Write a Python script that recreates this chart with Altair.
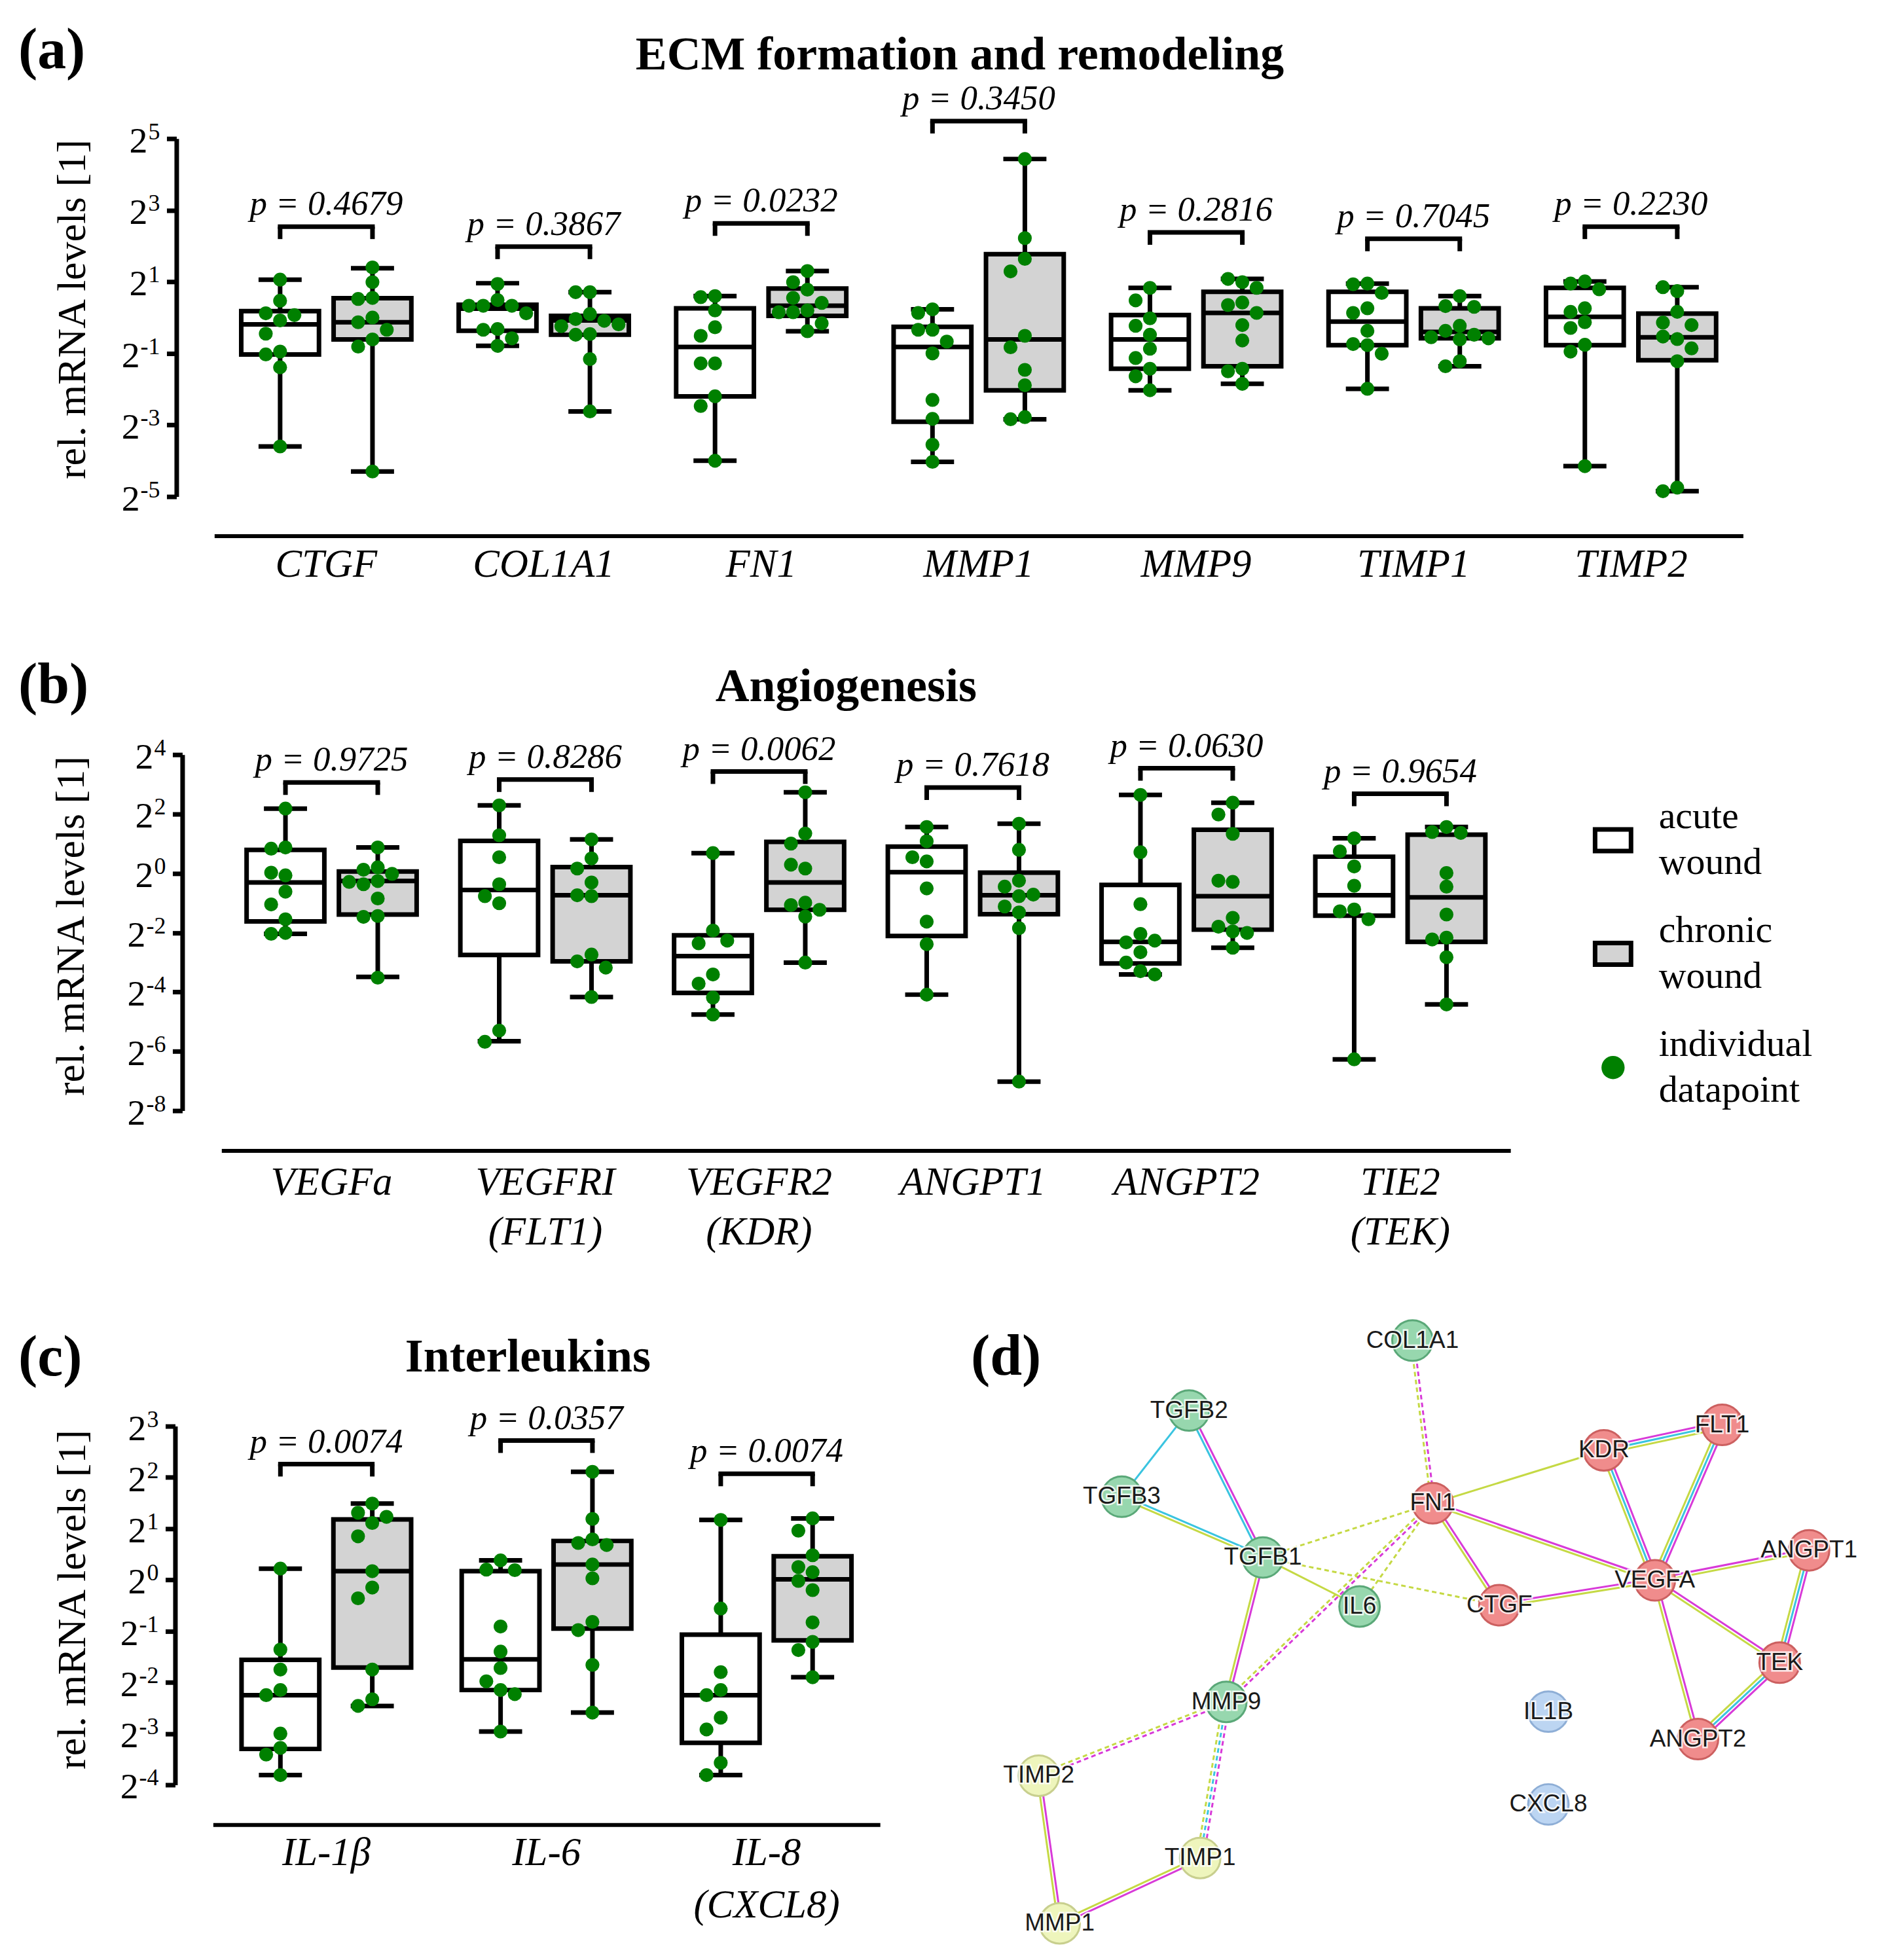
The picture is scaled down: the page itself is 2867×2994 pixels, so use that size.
import altair as alt
import pandas as pd
import numpy as np

SERIF = "Liberation Serif"
SANS = "Liberation Sans"
GREEN = "#008000"
GRAY = "#d3d3d3"

# ---------------- (a) ECM formation and remodeling ----------------
a_genes = ["CTGF", "COL1A1", "FN1", "MMP1", "MMP9", "TIMP1", "TIMP2"]
a_labels = ["CTGF", "COL1A1", "FN1", "MMP1", "MMP9", "TIMP1", "TIMP2"]
a_pvals = ["0.4679", "0.3867", "0.0232", "0.3450", "0.2816", "0.7045", "0.2230"]
a_bracket = [2.54, 1.98, 2.63, 5.49, 2.38, 2.20, 2.54]
# box statistics in log2 units: [min, q1, median, q3, max]
a_acute_box = [[-3.6, -1.03, -0.19, 0.18, 1.06], [-0.79, -0.37, 0.25, 0.36, 0.96],
               [-4.0, -2.2, -0.82, 0.26, 0.60], [-4.03, -2.91, -0.82, -0.26, 0.23],
               [-2.03, -1.43, -0.61, 0.07, 0.83], [-1.99, -0.77, -0.11, 0.72, 0.95],
               [-4.15, -0.77, 0.02, 0.83, 1.01]]
a_chronic_box = [[-4.3, -0.61, -0.13, 0.54, 1.38], [-2.62, -0.48, -0.08, 0.05, 0.71],
                 [-0.38, 0.05, 0.33, 0.81, 1.30], [-2.84, -2.03, -0.61, 1.77, 4.43],
                 [-1.85, -1.36, 0.13, 0.72, 1.08], [-1.36, -0.58, -0.40, 0.26, 0.60],
                 [-4.85, -1.19, -0.55, 0.11, 0.85]]
a_acute_pts = [[0.47, 1.06, 0.12, -0.08, 0.07, -0.45, -0.95, -1.03, -1.39, -3.6],
               [0.94, 0.49, 0.33, 0.33, 0.33, 0.12, -0.32, -0.34, -0.58, -0.79],
               [0.60, 0.57, 0.20, -0.27, -0.51, -1.28, -1.28, -2.2, -2.47, -4.0],
               [0.23, 0.13, -0.34, -0.34, -0.67, -1.0, -2.3, -2.83, -3.55, -4.03],
               [0.83, 0.48, -0.02, -0.23, -0.48, -0.87, -1.13, -1.43, -1.64, -2.03],
               [0.95, 0.93, 0.69, 0.26, 0.13, -0.37, -0.74, -0.77, -1.01, -1.99],
               [1.01, 0.95, 0.79, 0.26, 0.16, -0.13, -0.29, -0.76, -0.95, -4.15]]
a_chronic_pts = [[1.40, 0.99, 0.55, 0.52, 0.0, -0.13, -0.34, -0.61, -0.81, -4.3],
                 [0.71, 0.71, 0.10, -0.04, -0.09, -0.24, -0.19, -0.46, -0.48, -1.16, -2.62],
                 [1.30, 0.99, 0.78, 0.55, 0.41, 0.20, 0.15, 0.15, -0.16, -0.38],
                 [4.43, 2.22, 1.64, 1.29, -0.51, -0.83, -1.46, -1.89, -2.78, -2.84],
                 [0.99, 1.08, 0.83, 0.42, 0.35, 0.13, -0.21, -0.64, -1.43, -1.5, -1.85],
                 [0.60, 0.32, 0.30, -0.23, -0.37, -0.48, -0.55, -0.58, -0.61, -1.22, -1.36],
                 [0.74, 0.85, 0.16, -0.14, -0.21, -0.60, -0.53, -0.86, -1.22, -4.75, -4.85]]
a_ticks = [-5, -3, -1, 1, 3, 5]

# ---------------- (b) Angiogenesis ----------------
b_genes = ["VEGFa", "VEGFRI", "VEGFR2", "ANGPT1", "ANGPT2", "TIE2"]
b_labels = ["VEGFa", "VEGFRI|(FLT1)", "VEGFR2|(KDR)", "ANGPT1", "ANGPT2", "TIE2|(TEK)"]
b_pvals = ["0.9725", "0.8286", "0.0062", "0.7618", "0.0630", "0.9654"]
b_bracket = [3.06, 3.16, 3.43, 2.89, 3.54, 2.68]
b_acute_box = [[-2.04, -1.62, -0.31, 0.79, 2.18], [-5.66, -2.75, -0.56, 1.09, 2.29],
               [-4.76, -4.03, -2.79, -2.09, 0.68], [-4.09, -2.11, 0.04, 0.90, 1.56],
               [-3.41, -3.04, -2.31, -0.39, 2.64], [-6.27, -1.43, -0.74, 0.56, 1.18]]
b_chronic_box = [[-3.49, -1.39, -0.26, 0.06, 0.87], [-4.17, -2.97, -0.74, 0.21, 1.14],
                 [-3.01, -1.23, -0.31, 1.06, 2.73], [-7.02, -1.38, -0.74, 0.02, 1.67],
                 [-2.51, -1.90, -0.77, 1.47, 2.38], [-4.42, -2.31, -0.81, 1.30, 1.56]]
b_acute_pts = [[2.18, 0.87, 0.83, -0.07, 0.02, -0.62, -1.05, -1.55, -2.01, -2.04],
               [2.29, 1.28, 0.54, -0.37, -0.77, -1.01, -5.3, -5.68],
               [0.68, -1.93, -2.36, -2.27, -3.41, -3.72, -4.19, -4.76],
               [1.56, 1.08, 0.40, 0.54, -0.51, -1.63, -2.39, -4.09],
               [2.64, 0.71, -1.04, -2.04, -2.33, -2.27, -2.66, -3.01, -3.30, -3.41],
               [1.18, 0.74, 0.23, -0.42, -1.22, -1.28, -1.55, -6.27]]
b_chronic_pts = [[0.87, 0.20, 0.12, -0.02, -0.26, -0.29, -0.37, -0.85, -1.44, -1.47, -3.52],
                 [1.14, 0.50, 0.16, -0.31, -0.77, -0.74, -2.74, -2.97, -3.18, -4.17],
                 [2.73, 1.34, 1.0, 0.16, 0.29, -0.99, -1.07, -1.23, -1.46, -3.01],
                 [1.67, 0.79, -0.25, -0.45, -0.77, -0.72, -1.12, -1.32, -1.85, -7.02],
                 [2.38, 1.98, 1.33, -0.29, -0.25, -1.50, -1.96, -1.80, -2.01, -2.51],
                 [1.56, 1.39, 1.36, 0.01, -0.45, -1.39, -2.17, -2.23, -2.83, -4.42]]
b_ticks = [-8, -6, -4, -2, 0, 2, 4]

# ---------------- (c) Interleukins ----------------
c_genes = ["IL-1b", "IL-6", "IL-8"]
c_labels = ["IL-1β", "IL-6", "IL-8|(CXCL8)"]
c_pvals = ["0.0074", "0.0357", "0.0074"]
c_bracket = [2.26, 2.72, 2.07]
c_acute_box = [[-3.81, -3.30, -2.25, -1.56, 0.22], [-2.96, -2.15, -1.55, 0.17, 0.38],
               [-3.81, -3.18, -2.25, -1.07, 1.17]]
c_chronic_box = [[-2.46, -1.71, 0.17, 1.18, 1.49], [-2.59, -0.95, 0.30, 0.76, 2.11],
                 [-1.90, -1.18, 0.01, 0.46, 1.20]]
c_acute_pts = [[0.22, -1.36, -1.75, -2.15, -2.25, -3.0, -3.28, -3.41, -3.81],
               [0.38, 0.20, 0.19, -0.91, -1.40, -1.72, -1.98, -2.15, -2.23, -2.96],
               [1.17, -0.56, -1.80, -2.15, -2.25, -2.69, -2.92, -3.57, -3.81]]
c_chronic_pts = [[1.49, 1.31, 1.11, 1.23, 0.85, 0.17, -0.15, -0.36, -1.75, -2.33, -2.46],
                 [2.11, 1.19, 0.79, 0.72, 0.68, 0.30, 0.03, -0.82, -0.98, -1.66, -2.59],
                 [1.20, 0.96, 0.48, 0.25, 0.15, -0.02, -0.20, -0.83, -1.21, -1.37, -1.90]]
c_ticks = [-4, -3, -2, -1, 0, 1, 2, 3]

# ---------------- (d) interaction network ----------------
node_names = ["COL1A1", "TGFB2", "TGFB3", "TGFB1", "IL6", "MMP9", "TIMP2", "TIMP1", "MMP1",
              "FN1", "KDR", "FLT1", "VEGFA", "CTGF", "ANGPT1", "TEK", "ANGPT2", "IL1B", "CXCL8"]
node_x = [682, 340, 237, 453, 601, 397, 110, 357, 142,
          713, 975, 1156, 1053, 815, 1289, 1244, 1119, 890, 890]
node_y = [48, 155, 287, 380, 455, 601, 714, 840, 940,
          297, 216, 177, 415, 453, 369, 541, 658, 616, 758]
node_cluster = ["green", "green", "green", "green", "green", "green", "yellow", "yellow", "yellow",
                "red", "red", "red", "red", "red", "red", "red", "red", "blue", "blue"]
# evidence: m = experiments, c = databases, y = text mining
edge_a = ["TGFB2", "TGFB2", "TGFB3", "TGFB1", "TGFB1", "TGFB1", "TGFB1", "COL1A1", "FN1", "FN1",
          "FN1", "FN1", "FN1", "CTGF", "KDR", "KDR", "FLT1", "VEGFA", "VEGFA", "VEGFA",
          "ANGPT1", "TEK", "MMP9", "MMP9", "TIMP2", "TIMP1"]
edge_b = ["TGFB3", "TGFB1", "TGFB1", "IL6", "MMP9", "FN1", "CTGF", "FN1", "MMP9", "IL6",
          "KDR", "VEGFA", "CTGF", "VEGFA", "FLT1", "VEGFA", "VEGFA", "ANGPT1", "TEK", "ANGPT2",
          "TEK", "ANGPT2", "TIMP2", "TIMP1", "MMP1", "MMP1"]
edge_ev = ["c", "mc", "cy", "y", "my", "y", "y", "my", "my", "y",
           "y", "my", "my", "my", "mcy", "mcy", "mcy", "my", "my", "my",
           "mcy", "mcy", "my", "mcy", "my", "my"]
edge_dashed = [False, False, False, False, False, True, True, True, True, True,
               False, False, False, False, False, False, False, False, False, False,
               False, False, True, True, False, False]


def swarm_slots(vals, ppu, diam=24.0, step=22.0):
    placed, slots = [], []
    for v in vals:
        yp = v * ppu
        chosen = 0
        for s in [0, -1, 1, -2, 2, -3, 3, -4, 4]:
            if all(((s - ps) * step) ** 2 + (yp - py) ** 2 >= (0.85 * diam) ** 2 for ps, py in placed):
                chosen = s
                break
        placed.append((chosen, yp))
        slots.append(chosen)
    return slots


def box_layers(cfg):
    genes = cfg["genes"]
    n = len(genes)
    ppux = (cfg["xr"][1] - cfg["xr"][0]) / n
    ppuy = (cfg["yr"][0] - cfg["yr"][1]) / (cfg["ydom"][1] - cfg["ydom"][0])
    dodge = 71.0 / ppux
    box_rows, pt_rows, ann_rows = [], [], []
    for i, g in enumerate(genes):
        for side, grp, boxes, pts in [(-1, "acute", cfg["acute_box"], cfg["acute_pts"]),
                                      (1, "chronic", cfg["chronic_box"], cfg["chronic_pts"])]:
            lo, q1, med, q3, hi = boxes[i]
            xc = i + side * dodge
            box_rows.append(dict(gene=g, grp=grp, xi=xc, lo=lo, q1=q1, med=med, q3=q3, hi=hi))
            slots = swarm_slots(pts[i], ppuy)
            for v, s in zip(pts[i], slots):
                pt_rows.append(dict(gene=g, grp=grp, xp=xc + s * 22.0 / ppux, v=v))
        ann_rows.append(dict(gene=g, xc=i, xl=i - dodge, xr=i + dodge, yb=cfg["bracket"][i],
                             ptxt="p = " + cfg["pvals"][i], label=cfg["labels"][i]))
    box_df = pd.DataFrame(box_rows)
    pt_df = pd.DataFrame(pt_rows)
    ann_df = pd.DataFrame(ann_rows)
    tick_df = pd.DataFrame({"v": cfg["ticks"], "base": ["2"] * len(cfg["ticks"]),
                            "exp": [str(t) for t in cfg["ticks"]]})

    xs = alt.Scale(domain=[-0.5, n - 0.5], range=cfg["xr"], nice=False, zero=False)
    ys = alt.Scale(domain=cfg["ydom"], range=cfg["yr"], nice=False, zero=False)
    xaxis = alt.Axis(title=None, labels=False, ticks=False, grid=False, domain=True,
                     domainWidth=6, domainColor="black", offset=cfg["xoff"])
    yaxis = alt.Axis(title="rel. mRNA levels [1]", values=cfg["ticks"], labels=False, grid=False,
                     domain=True, domainWidth=7, domainColor="black",
                     tickSize=15, tickWidth=7, tickColor="black",
                     titleFont=SERIF, titleFontSize=62, titleFontWeight="normal", titleColor="black",
                     titleX=cfg["titleX"], titleY=cfg["titleY"], titleAngle=270,
                     titleBaseline="bottom", titleAlign="center", offset=cfg["yoff"])

    def X(f):
        return alt.X(f, type="quantitative", scale=xs, axis=xaxis)

    def Y(f):
        return alt.Y(f, type="quantitative", scale=ys, axis=yaxis)

    axis_x = -cfg["yoff"]
    base = alt.Chart(box_df)
    tk = alt.Chart(tick_df)
    layers = [
        base.mark_rule(strokeWidth=7, color="black").encode(x=X("xi"), y=Y("lo"), y2="hi"),
        base.mark_tick(orient="horizontal", size=66, thickness=7, color="black", opacity=1).encode(x=X("xi"), y=Y("lo")),
        base.mark_tick(orient="horizontal", size=66, thickness=7, color="black", opacity=1).encode(x=X("xi"), y=Y("hi")),
        base.transform_filter("datum.grp == 'acute'").mark_bar(size=119, fill="white", stroke="black", strokeWidth=7)
            .encode(x=X("xi"), y=Y("q1"), y2="q3"),
        base.transform_filter("datum.grp == 'chronic'").mark_bar(size=119, fill=GRAY, stroke="black", strokeWidth=7)
            .encode(x=X("xi"), y=Y("q1"), y2="q3"),
        base.mark_tick(orient="horizontal", size=119, thickness=7, color="black", opacity=1).encode(x=X("xi"), y=Y("med")),
        alt.Chart(pt_df).mark_circle(size=450, color=GREEN, opacity=1).encode(x=X("xp"), y=Y("v")),
        # tick labels 2^k drawn as base + raised exponent
        tk.transform_filter("datum.v >= 0").mark_text(font=SERIF, fontSize=56, align="right",
                                                      baseline="alphabetic", dy=21, color="black")
            .encode(x=alt.value(axis_x - 44), y=Y("v"), text="base"),
        tk.transform_filter("datum.v < 0").mark_text(font=SERIF, fontSize=56, align="right",
                                                     baseline="alphabetic", dy=21, color="black")
            .encode(x=alt.value(axis_x - 56), y=Y("v"), text="base"),
        tk.mark_text(font=SERIF, fontSize=36, align="right", baseline="alphabetic", dy=1, color="black")
            .encode(x=alt.value(axis_x - 25), y=Y("v"), text="exp"),
    ]
    ann = alt.Chart(ann_df)
    layers += [
        ann.mark_rule(strokeWidth=7, color="black", strokeCap="square").encode(x=X("xl"), x2="xr", y=Y("yb")),
        ann.mark_tick(orient="vertical", size=19, thickness=7, yOffset=9.5, color="black", opacity=1).encode(x=X("xl"), y=Y("yb")),
        ann.mark_tick(orient="vertical", size=19, thickness=7, yOffset=9.5, color="black", opacity=1).encode(x=X("xr"), y=Y("yb")),
        ann.mark_text(font=SERIF, fontSize=53, fontStyle="italic", baseline="alphabetic", align="center",
                      dy=-18, color="black").encode(x=X("xc"), y=Y("yb"), text="ptxt"),
        ann.mark_text(font=SERIF, fontSize=61, fontStyle="italic", baseline="alphabetic", align="center",
                      lineBreak="|", lineHeight=cfg["lh"], color="black")
            .encode(x=X("xc"), y=alt.value(cfg["label_y"]), text="label"),
        alt.Chart(pd.DataFrame({"t": [cfg["letter"]]})).mark_text(
            font=SERIF, fontSize=88, fontWeight="bold", align="left", baseline="alphabetic", color="black")
            .encode(x=alt.value(-300), y=alt.value(cfg["letter_y"]), text="t"),
        alt.Chart(pd.DataFrame({"t": [cfg["title"]]})).mark_text(
            font=SERIF, fontSize=72, fontWeight="bold", align="center", baseline="alphabetic", color="black")
            .encode(x=alt.value(cfg["title_x"]), y=alt.value(cfg["title_y"]), text="t"),
    ]
    return layers


cfg_a = dict(genes=a_genes, labels=a_labels, pvals=a_pvals, bracket=a_bracket,
             acute_box=a_acute_box, chronic_box=a_chronic_box, acute_pts=a_acute_pts,
             chronic_pts=a_chronic_pts, ticks=a_ticks, ydom=[-5, 5], yr=[548, 0], xr=[0, 2340],
             xoff=60, yoff=58, titleX=-127, titleY=261, label_y=671, lh=76,
             letter="(a)", letter_y=-108, title="ECM formation and remodeling", title_x=1141, title_y=-106)
cfg_b = dict(genes=b_genes, labels=b_labels, pvals=b_pvals, bracket=b_bracket,
             acute_box=b_acute_box, chronic_box=b_chronic_box, acute_pts=b_acute_pts,
             chronic_pts=b_chronic_pts, ticks=b_ticks, ydom=[-8, 4], yr=[545, 0], xr=[11, 1984],
             xoff=61, yoff=49, titleX=-138, titleY=262, label_y=674, lh=76,
             letter="(b)", letter_y=-79, title="Angiogenesis", title_x=967, title_y=-82)
cfg_c = dict(genes=c_genes, labels=c_labels, pvals=c_pvals, bracket=c_bracket,
             acute_box=c_acute_box, chronic_box=c_chronic_box, acute_pts=c_acute_pts,
             chronic_pts=c_chronic_pts, ticks=c_ticks, ydom=[-4, 3], yr=[637, 88], xr=[-2, 1019],
             xoff=61, yoff=60, titleX=-125, titleY=353, label_y=760, lh=80,
             letter="(c)", letter_y=10, title="Interleukins", title_x=480, title_y=4)

row_a = alt.layer(*box_layers(cfg_a)).properties(width=2340, height=548)

# legend for (b)
legend_items = ["acute|wound", "chronic|wound", "individual|datapoint"]
legend_kind = ["box", "box", "dot"]
leg_df = pd.DataFrame({"item": legend_items, "kind": legend_kind})
Ly = alt.Y("item:N", scale=alt.Scale(type="point", domain=legend_items, range=[131, 479], padding=0), axis=None)
leg = alt.Chart(leg_df)
legend_layers = [
    leg.transform_filter("datum.kind == 'box'").mark_point(
        shape="M-1.667,-1H1.667V1H-1.667Z", size=1089, filled=True, stroke="black", strokeWidth=7, opacity=1)
        .encode(x=alt.value(2141), y=Ly,
                fill=alt.Fill("item:N", scale=alt.Scale(domain=legend_items[:2], range=["white", GRAY]), legend=None)),
    leg.transform_filter("datum.kind == 'dot'").mark_circle(size=1257, color=GREEN, opacity=1)
        .encode(x=alt.value(2141), y=Ly),
    leg.mark_text(font=SERIF, fontSize=58, align="left", baseline="alphabetic", lineBreak="|", lineHeight=70,
                  dy=-18, color="black").encode(x=alt.value(2211), y=Ly, text="item"),
]
row_b = alt.layer(alt.layer(*box_layers(cfg_b)), *legend_layers).resolve_scale(y="independent").properties(
    width=2440, height=545)

# network (d)
nodes = pd.DataFrame({"name": node_names, "x": node_x, "y": node_y, "cluster": node_cluster})
pos = {n: (x, y) for n, x, y in zip(node_names, node_x, node_y)}
ev_name = {"m": "experiments", "c": "databases", "y": "textmining"}
erows = []
for a, b, ev, dsh in zip(edge_a, edge_b, edge_ev, edge_dashed):
    (x1, y1), (x2, y2) = pos[a], pos[b]
    L = np.hypot(x2 - x1, y2 - y1)
    px, py = -(y2 - y1) / L, (x2 - x1) / L
    k = len(ev)
    for j, ch in enumerate(ev):
        off = (j - (k - 1) / 2) * 5.0
        erows.append(dict(x=x1 + px * off, y=y1 + py * off, x2=x2 + px * off, y2=y2 + py * off,
                          etype=ev_name[ch], dashed=dsh))
edges = pd.DataFrame(erows)
DX = alt.X("x:Q", scale=alt.Scale(domain=[0, 1380], range=[1152, 2532], nice=False, zero=False), axis=None)
DY = alt.Y("y:Q", scale=alt.Scale(domain=[0, 990], range=[-91, 899], nice=False, zero=False), axis=None)
ecol = alt.Color("etype:N", scale=alt.Scale(domain=["experiments", "databases", "textmining"],
                                            range=["#d83ad8", "#3ac4e0", "#c5d944"]), legend=None)
clusters = ["red", "green", "yellow", "blue"]
d_layers = [
    alt.Chart(edges).transform_filter("!datum.dashed").mark_rule(strokeWidth=3)
        .encode(x=DX, y=DY, x2="x2", y2="y2", color=ecol),
    alt.Chart(edges).transform_filter("datum.dashed").mark_rule(strokeWidth=3, strokeDash=[7, 5])
        .encode(x=DX, y=DY, x2="x2", y2="y2", color=ecol),
    alt.Chart(nodes).mark_circle(size=3850, strokeWidth=3, opacity=1).encode(
        x=DX, y=DY,
        fill=alt.Fill("cluster:N", scale=alt.Scale(domain=clusters,
                                                   range=["#f08c8c", "#97d7ae", "#eef5bc", "#bcd5f2"]), legend=None),
        stroke=alt.Stroke("cluster:N", scale=alt.Scale(domain=clusters,
                                                       range=["#cc6060", "#5aa878", "#c8cf8e", "#8eaed6"]), legend=None)),
    alt.Chart(nodes).mark_text(font=SANS, fontSize=37, color="white", stroke="white", strokeWidth=5, opacity=0.8)
        .encode(x=DX, y=DY, text="name"),
    alt.Chart(nodes).mark_text(font=SANS, fontSize=37, color="#1a1a1a").encode(x=DX, y=DY, text="name"),
    alt.Chart(pd.DataFrame({"t": ["(d)"]})).mark_text(
        font=SERIF, fontSize=88, fontWeight="bold", align="left", baseline="alphabetic", color="black")
        .encode(x=alt.value(1158), y=alt.value(9), text="t"),
]
row_c = alt.layer(alt.layer(*box_layers(cfg_c)), alt.layer(*d_layers)).resolve_scale(
    x="independent", y="independent").properties(width=2532, height=637)

chart = alt.vconcat(row_a, row_b, row_c, spacing=395, bounds="flush").resolve_scale(
    fill="independent", stroke="independent", color="independent"
).properties(
    padding={"left": 20, "top": 23, "right": 5, "bottom": 5}
).configure_view(stroke=None)

chart.save("out.html", embed_options={"renderer": "svg", "actions": False})
